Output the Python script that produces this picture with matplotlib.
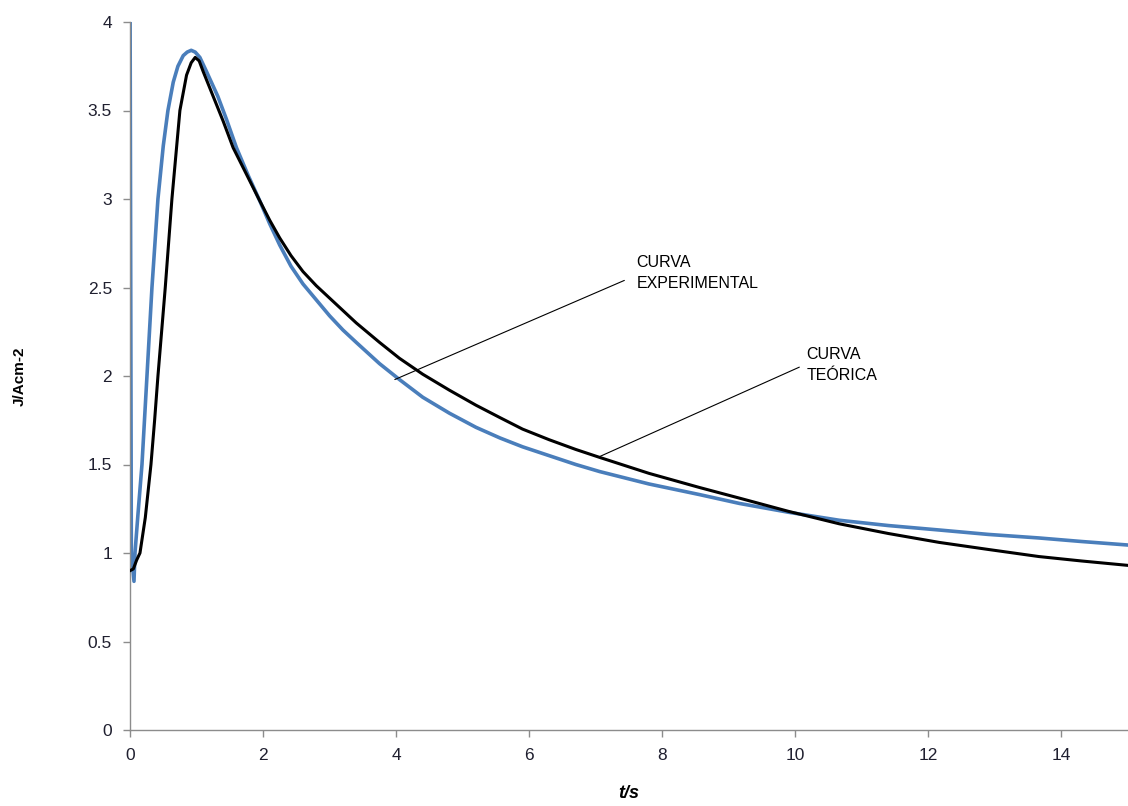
import matplotlib
matplotlib.use("Agg")
import matplotlib.pyplot as plt

plt.rcParams['font.family'] = ['Liberation Sans', 'DejaVu Sans']

# Experimental curve (blue)
t_exp = [0.0, 0.02, 0.06, 0.075, 0.12, 0.18, 0.255, 0.33, 0.42, 0.5, 0.57, 0.65,
         0.72, 0.8, 0.86, 0.92, 0.98, 1.05, 1.15, 1.32, 1.45, 1.6, 1.78, 1.95, 2.1,
         2.25, 2.42, 2.6, 2.8, 3.0, 3.2, 3.4, 3.75, 4.05, 4.4, 4.8, 5.2, 5.56, 5.9,
         6.3, 6.7, 7.06, 7.8, 8.56, 9.16, 9.9, 10.66, 11.4, 12.16, 12.9, 13.66,
         14.3, 15.0]
j_exp = [4.3, 1.0, 0.84, 1.0, 1.22, 1.5, 2.0, 2.5, 3.0, 3.3, 3.5, 3.66,
         3.75, 3.81, 3.83, 3.84, 3.83, 3.80, 3.72, 3.58, 3.45, 3.29, 3.13, 2.99, 2.86,
         2.74, 2.62, 2.52, 2.43, 2.34, 2.26, 2.19, 2.07, 1.98, 1.88, 1.79, 1.71, 1.65, 1.60,
         1.55, 1.50, 1.46, 1.39, 1.33, 1.28, 1.23, 1.185, 1.155, 1.13, 1.105, 1.085,
         1.065, 1.045]

# Theoretical curve (black)
t_teo = [0.0, 0.05, 0.1, 0.15, 0.23, 0.315, 0.37, 0.42, 0.53, 0.63, 0.75, 0.85,
         0.92, 0.98, 1.04, 1.1, 1.25, 1.4, 1.55, 1.75, 1.95, 2.1, 2.25, 2.42, 2.6,
         2.8, 3.0, 3.2, 3.4, 3.75, 4.05, 4.4, 4.8, 5.2, 5.56, 5.9, 6.3, 6.7, 7.06,
         7.8, 8.56, 9.16, 9.9, 10.66, 11.4, 12.16, 12.9, 13.66, 14.3, 15.0]
j_teo = [0.9, 0.91, 0.96, 1.0, 1.2, 1.5, 1.75, 2.0, 2.5, 3.0, 3.5, 3.7,
         3.77, 3.80, 3.78, 3.72, 3.58, 3.44, 3.29, 3.14, 2.99, 2.88, 2.78, 2.68, 2.59,
         2.51, 2.44, 2.37, 2.30, 2.19, 2.10, 2.01, 1.92, 1.835, 1.765, 1.70, 1.64, 1.585, 1.54,
         1.45, 1.37, 1.31, 1.235, 1.165, 1.11, 1.06, 1.02, 0.98, 0.955, 0.93]

x_ticks = [0, 2, 4, 6, 8, 10, 12, 14]
y_ticks = [0, 0.5, 1, 1.5, 2, 2.5, 3, 3.5, 4]
y_tick_labels = ["0", "0.5", "1", "1.5", "2", "2.5", "3", "3.5", "4"]

fig = plt.figure(figsize=(11.28, 8.06), dpi=100)
ax = fig.add_axes([130/1128, 1-730/806, 1-130/1128, (730-22)/806])

ax.plot(t_exp, j_exp, color='#4a7ebb', lw=2.6, solid_joinstyle='round', zorder=2)
ax.plot(t_teo, j_teo, color='black', lw=2.2, solid_joinstyle='round', zorder=3)

ax.set_xlim(0, 15)
ax.set_ylim(0, 4)
ax.set_xticks(x_ticks)
ax.set_yticks(y_ticks)
ax.set_yticklabels(y_tick_labels)

for s in ['top', 'right']:
    ax.spines[s].set_visible(False)
for s in ['left', 'bottom']:
    ax.spines[s].set_color('#8c8c8c')
    ax.spines[s].set_linewidth(1.0)
ax.tick_params(axis='both', direction='out', length=5, width=1.0, color='#8c8c8c',
               labelsize=12.5, labelcolor='#1f1f2f', pad=8)

ax.set_xlabel('t/s', fontsize=13, fontweight='bold', fontstyle='italic', labelpad=16)
ax.set_ylabel('J/Acm-2', fontsize=11, fontweight='bold', labelpad=44)

# annotations
ax.annotate('', xy=(3.98, 1.98), xytext=(7.43, 2.54),
            arrowprops=dict(arrowstyle='-', color='black', lw=0.8, shrinkA=0, shrinkB=0))
ax.text(7.61, 2.58, 'CURVA\nEXPERIMENTAL', fontsize=11.5, ha='left', va='center',
        linespacing=1.5)
ax.annotate('', xy=(7.03, 1.54), xytext=(10.06, 2.05),
            arrowprops=dict(arrowstyle='-', color='black', lw=0.8, shrinkA=0, shrinkB=0))
ax.text(10.17, 2.06, 'CURVA\nTEÓRICA', fontsize=11.5, ha='left', va='center',
        linespacing=1.5)

fig.savefig('out.png', dpi=100)
